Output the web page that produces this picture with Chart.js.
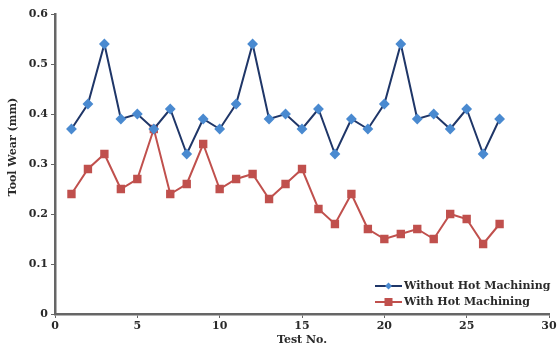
<!DOCTYPE html>
<html>
<head>
<meta charset="utf-8">
<script src="https://cdn.jsdelivr.net/npm/chart.js@4/dist/chart.umd.min.js"></script>
<style>
  html, body { margin: 0; padding: 0; background: #fff; }
  #wrap { width: 560px; height: 347px; }
</style>
</head>
<body>
<div id="wrap"><canvas id="graph" width="560" height="347"></canvas></div>
<script>
// test numbers 1..27
var testNo = [1,2,3,4,5,6,7,8,9,10,11,12,13,14,15,16,17,18,19,20,21,22,23,24,25,26,27];
var withoutHot = [0.37,0.42,0.54,0.39,0.40,0.37,0.41,0.32,0.39,0.37,0.42,0.54,0.39,0.40,0.37,0.41,0.32,0.39,0.37,0.42,0.54,0.39,0.40,0.37,0.41,0.32,0.39];
var withHot = [0.24,0.29,0.32,0.25,0.27,0.37,0.24,0.26,0.34,0.25,0.27,0.28,0.23,0.26,0.29,0.21,0.18,0.24,0.17,0.15,0.16,0.17,0.15,0.20,0.19,0.14,0.18];
var seriesNames = ["Without Hot Machining", "With Hot Machining"];
var yTitle = "Tool Wear (mm)";

var font = "'DejaVu Serif', serif";
var textColor = "#2a2a2a";

function toPoints(ys) {
  return testNo.map(function (x, i) { return { x: x, y: ys[i] }; });
}

// legend inside the plot (lower right) + y title, which sits a bit above centre
var extras = {
  id: "extras",
  afterDraw: function (chart) {
    var ctx = chart.ctx;
    var x0 = 375, y0 = 286, gap = 16;
    ctx.save();
    chart.data.datasets.forEach(function (ds, i) {
      var y = y0 + i * gap;
      ctx.strokeStyle = ds.borderColor;
      ctx.lineWidth = 2;
      ctx.beginPath();
      ctx.moveTo(x0, y);
      ctx.lineTo(x0 + 27, y);
      ctx.stroke();
      ctx.fillStyle = ds.pointBackgroundColor;
      if (ds.pointStyle === "rect") {
        ctx.fillRect(x0 + 13.5 - 4, y - 4, 8, 8);
      } else {
        ctx.beginPath();
        ctx.moveTo(x0 + 13.5, y - 3.5);
        ctx.lineTo(x0 + 17, y);
        ctx.lineTo(x0 + 13.5, y + 3.5);
        ctx.lineTo(x0 + 10, y);
        ctx.closePath();
        ctx.fill();
      }
      ctx.fillStyle = textColor;
      ctx.font = "bold 11px " + font;
      ctx.textBaseline = "middle";
      ctx.fillText(ds.label, x0 + 29, y);
    });

    ctx.translate(13, 147);
    ctx.rotate(-Math.PI / 2);
    ctx.textAlign = "center";
    ctx.textBaseline = "middle";
    ctx.font = "bold 11px " + font;
    ctx.fillStyle = textColor;
    ctx.fillText(yTitle, 0, 0);
    ctx.restore();
  }
};

var chart = new Chart("graph", {
  type: "line",
  data: {
    datasets: [{
      label: seriesNames[0],
      data: toPoints(withoutHot),
      borderColor: "#1f3668",
      borderWidth: 2,
      pointStyle: "rectRot",
      pointRadius: 4,
      pointBackgroundColor: "#4a8ad0",
      pointBorderColor: "#4a8ad0",
      lineTension: 0,
      fill: false
    }, {
      label: seriesNames[1],
      data: toPoints(withHot),
      borderColor: "#c0504d",
      borderWidth: 2,
      pointStyle: "rect",
      pointRadius: 4.5,
      pointBackgroundColor: "#c0504d",
      pointBorderColor: "#c0504d",
      lineTension: 0,
      fill: false
    }]
  },
  options: {
    responsive: false,
    animation: false,
    layout: { padding: { left: 0, right: 11, top: 14, bottom: 0 } },
    plugins: {
      legend: { display: false },
      tooltip: { enabled: false }
    },
    scales: {
      x: {
        type: "linear",
        min: 0,
        max: 30,
        ticks: { stepSize: 5, color: textColor, font: { family: font, size: 11, weight: "bold" }, padding: 2 },
        grid: { drawOnChartArea: false, drawTicks: true, tickLength: 4, color: "#666" },
        border: { color: "#666", width: 2.5 },
        title: { display: true, text: "Test No.", color: textColor, font: { family: font, size: 11, weight: "bold" }, padding: 0 },
        afterFit: function (s) { s.height = 33; }
      },
      y: {
        min: 0,
        max: 0.6,
        ticks: { stepSize: 0.1, color: textColor, font: { family: font, size: 11, weight: "bold" }, padding: 3 },
        grid: { drawOnChartArea: false, drawTicks: true, tickLength: 4, color: "#666" },
        border: { color: "#666", width: 2.5 },
        afterFit: function (s) { s.width = 55; }
      }
    }
  },
  plugins: [extras]
});
</script>
</body>
</html>
